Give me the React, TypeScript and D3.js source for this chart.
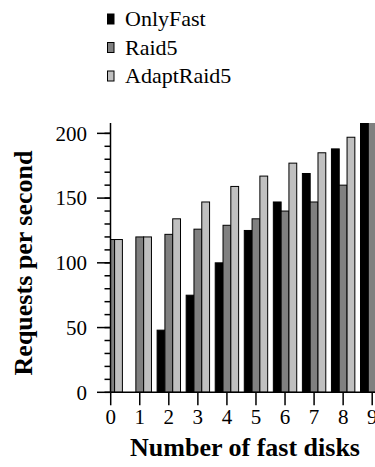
import React from "react";
import * as d3 from "d3";

const categories = [0, 1, 2, 3, 4, 5, 6, 7, 8, 9];
const seriesNames = ["OnlyFast", "Raid5", "AdaptRaid5"];
const onlyFast = [0, 0, 48, 75, 100, 125, 147, 169, 188, 215];
const raid5 = [118, 120, 122, 126, 129, 134, 140, 147, 160, 215];
const adaptRaid5 = [118, 120, 134, 147, 159, 167, 177, 185, 197, 225];
const seriesColors = ["#000000", "#808080", "#c0c0c0"];
const yTicks = [0, 50, 100, 150, 200];
const yMinorTicks = d3.range(0, 201, 10);

const W = 375;
const H = 467;
const font = '"Liberation Serif", "Times New Roman", Tinos';

export default function App() {
  const series = [onlyFast, raid5, adaptRaid5];
  const x = d3.scaleLinear().domain([0, 9]).range([110.7, 372.2]);
  const y = d3.scaleLinear().domain([0, 208]).range([392.3, 123]);
  const bw = 7.8;
  const axisX = 110.5;
  const ts = { fontFamily: font };

  return (
    <svg
      width={W}
      height={H}
      style={{ position: "absolute", left: 0, top: 0, background: "#fff", fontFamily: font }}
    >
      <defs>
        <clipPath id="plotclip">
          <rect x={axisX} y={y(208)} width={W - axisX} height={y(0) - y(208)} />
        </clipPath>
      </defs>

      {/* legend */}
      {seriesNames.map((name, i) => (
        <g key={name}>
          <rect
            x={107.5}
            y={14 + i * 28.5}
            width={6.5}
            height={10}
            fill={seriesColors[i]}
            stroke="#000"
            strokeWidth={1}
          />
          <text x={125} y={26 + i * 28.5} fontSize={22} fill="#000" style={ts}>
            {name}
          </text>
        </g>
      ))}

      {/* bars */}
      <g clipPath="url(#plotclip)">
        {categories.map((c, ci) =>
          series.map((s, si) =>
            s[ci] > 0 ? (
              <rect
                key={`${ci}-${si}`}
                x={x(c) - bw * 1.5 + si * bw}
                y={y(s[ci])}
                width={bw}
                height={y(0) - y(s[ci])}
                fill={seriesColors[si]}
                stroke="#000"
                strokeWidth={1}
              />
            ) : null
          )
        )}
      </g>

      {/* y axis */}
      <line x1={axisX} x2={axisX} y1={y(208)} y2={y(0)} stroke="#000" strokeWidth={1.5} />
      {yMinorTicks.map((t) => (
        <line key={`m${t}`} x1={axisX - 6} x2={axisX} y1={y(t)} y2={y(t)} stroke="#000" strokeWidth={1.5} />
      ))}
      {yTicks.map((t) => (
        <g key={`t${t}`}>
          <line x1={axisX - 13.5} x2={axisX} y1={y(t)} y2={y(t)} stroke="#000" strokeWidth={1.5} />
          <text
            x={87}
            y={y(t)}
            dy="0.35em"
            textAnchor="end"
            fontSize={21}
            fill="#000"
            style={ts}
          >
            {t}
          </text>
        </g>
      ))}

      {/* x axis */}
      <line x1={axisX} x2={W} y1={y(0)} y2={y(0)} stroke="#000" strokeWidth={1.5} />
      {categories.map((c) => (
        <g key={`x${c}`}>
          <line x1={x(c)} x2={x(c)} y1={y(0)} y2={y(0) + 13} stroke="#000" strokeWidth={1.5} />
          <text x={x(c)} y={424} textAnchor="middle" fontSize={21} fill="#000" style={ts}>
            {c}
          </text>
        </g>
      ))}

      {/* axis titles */}
      <text
        x={245}
        y={456}
        textAnchor="middle"
        fontSize={26}
        fontWeight="bold"
        fill="#000"
        style={ts}
      >
        Number of fast disks
      </text>
      <text
        transform={`translate(32, 263) rotate(-90)`}
        textAnchor="middle"
        fontSize={26}
        fontWeight="bold"
        fill="#000"
        style={ts}
      >
        Requests per second
      </text>
    </svg>
  );
}
